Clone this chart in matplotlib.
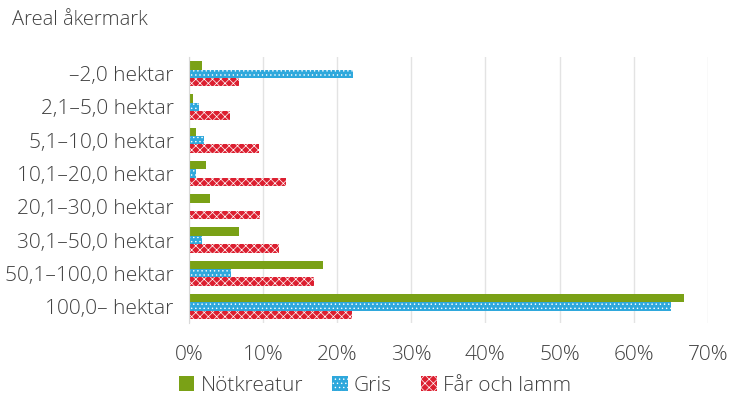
import numpy as np
import matplotlib.pyplot as plt
from matplotlib.patches import Patch

plt.rcParams['font.family'] = ['Open Sans', 'DejaVu Sans']
plt.rcParams['font.weight'] = 'light'
plt.rcParams['hatch.linewidth'] = 0.5

categories = ['–2,0 hektar', '2,1–5,0 hektar', '5,1–10,0 hektar', '10,1–20,0 hektar',
              '20,1–30,0 hektar', '30,1–50,0 hektar', '50,1–100,0 hektar', '100,0– hektar']
notkreatur = [1.7, 0.5, 0.95, 2.3, 2.8, 6.8, 18.1, 66.8]
gris = [22.1, 1.3, 2.0, 1.0, 0.2, 1.7, 5.7, 65.0]
far = [6.8, 5.6, 9.5, 13.1, 9.6, 12.2, 16.9, 22.0]
xticks = [0, 10, 20, 30, 40, 50, 60, 70]

green = '#7aa116'
blue = '#2fa8dc'
red = '#dc1f30'
text_col = '#404040'

fig = plt.figure(figsize=(7.38, 4.08), dpi=100)
ax = fig.add_axes([0.256, 0.208, 0.703, 0.652])

y = np.arange(len(categories))
h = 0.255
ax.barh(y - h, notkreatur, height=h, color=green, linewidth=0)
ax.barh(y, gris, height=h, color=blue, edgecolor='white', hatch='....', linewidth=0)
ax.barh(y + h, far, height=h, color=red, edgecolor='white', hatch='xxxx', linewidth=0)

ax.set_ylim(len(categories) - 0.5, -0.5)
ax.set_yticks(y)
ax.set_yticklabels(categories)
ax.set_xlim(0, 70)
ax.set_xticks(xticks)
ax.set_xticklabels([f'{v}%' for v in xticks])
ax.tick_params(axis='both', length=0, labelsize=15, colors=text_col)
ax.tick_params(axis='y', pad=11)
ax.tick_params(axis='x', pad=16)
ax.grid(axis='x', color='#e3e3e3', linewidth=1)
ax.set_axisbelow(True)
for s in ['top', 'right', 'bottom']:
    ax.spines[s].set_visible(False)
ax.spines['left'].set_color('#d9d9d9')

fig.text(0.016, 0.952, 'Areal åkermark', fontsize=14.5, color=text_col, va='center')

handles = [Patch(facecolor=green, linewidth=0),
           Patch(facecolor=blue, edgecolor='white', hatch='....', linewidth=0),
           Patch(facecolor=red, edgecolor='white', hatch='xxxx', linewidth=0)]
fig.legend(handles, ['Nötkreatur', 'Gris', 'Får och lamm'], loc='center',
           bbox_to_anchor=(0.508, 0.055), ncol=3, frameon=False, fontsize=15,
           labelcolor=text_col, handlelength=0.75, handleheight=0.75,
           handletextpad=0.3, columnspacing=1.4)

fig.savefig('out.png', dpi=100)
